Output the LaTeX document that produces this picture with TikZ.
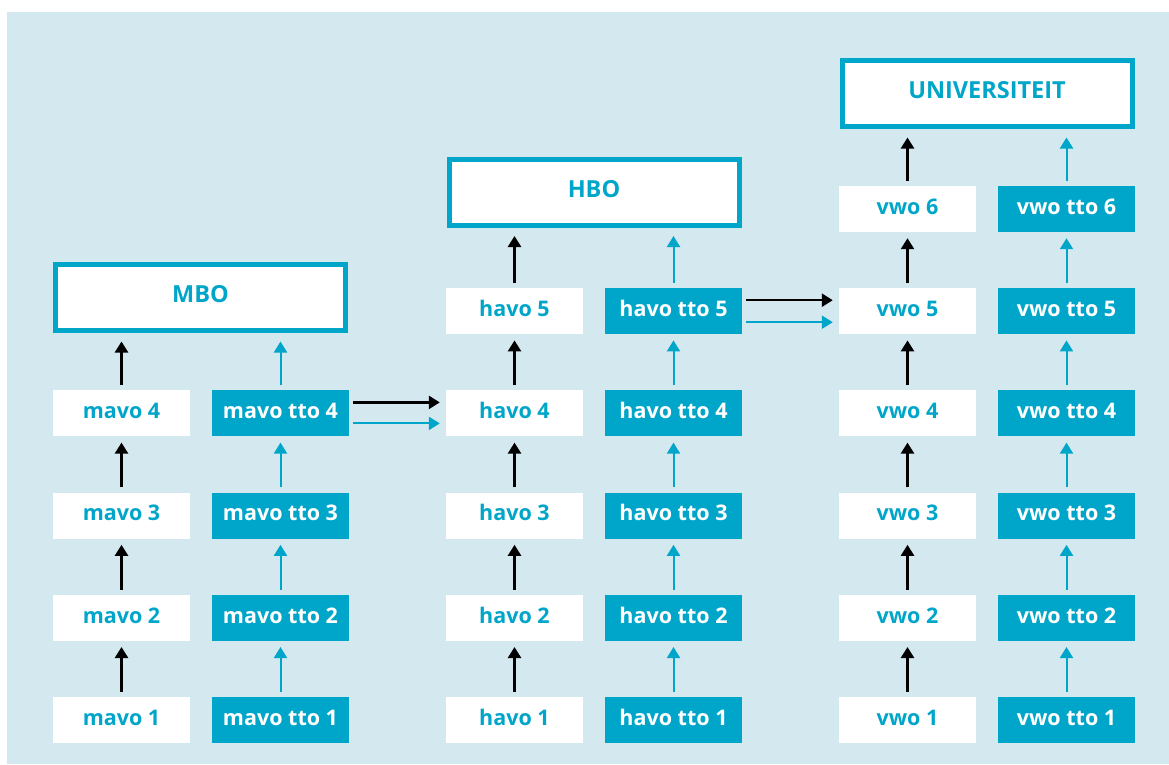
\documentclass[tikz,border=0pt]{standalone}
\usepackage{fontspec}
\setmainfont{Open Sans}
\usetikzlibrary{arrows.meta}
\definecolor{teal}{HTML}{00A6C9}
\definecolor{bgblue}{HTML}{D4E8EF}
\tikzset{
  x=1pt,y=-1pt,
  base/.style={minimum width=137pt,minimum height=46pt,inner sep=0pt,text height=15.4pt,text depth=5pt,font=\fontsize{21.5}{24}\selectfont\bfseries},
  wbox/.style={base,fill=white,text=teal},
  tbox/.style={base,fill=teal,text=white},
  bigbox/.style={draw=teal,line width=5pt,fill=white,text=teal,minimum width=290pt,minimum height=66pt,inner sep=0pt,text height=16.8pt,text depth=6pt,font=\fontsize{23.5}{26}\selectfont\bfseries},
  blackarrow/.style={line width=2.5pt,black,-{Triangle[width=13pt,length=11pt]},shorten <=5pt,shorten >=6pt},
  tealarrow/.style={line width=2pt,teal,-{Triangle[width=13pt,length=11pt]},shorten <=5pt,shorten >=6pt},
  bigblackarrow/.style={blackarrow,shorten >=8.5pt},
  bigtealarrow/.style={tealarrow,shorten >=8.5pt},
  hblack/.style={line width=2.5pt,black,-{Triangle[width=13pt,length=11pt]},shorten <=4pt,shorten >=6pt},
  hteal/.style={line width=2pt,teal,-{Triangle[width=13pt,length=11pt]},shorten <=4pt,shorten >=6pt},
}
\begin{document}
\begin{tikzpicture}
\useasboundingbox (0,0) rectangle (1169,764);
\fill[bgblue] (7,12) rectangle (1169,764);
% rows
\foreach \i in {1,...,4}{
  \node[wbox] (m\i) at (121.5,{720-102.2*(\i-1)}) {mavo \i};
  \node[tbox] (mt\i) at (280.5,{720-102.2*(\i-1)}) {mavo tto \i};
}
\foreach \i in {1,...,5}{
  \node[wbox] (h\i) at (514.5,{720-102.2*(\i-1)}) {havo \i};
  \node[tbox] (ht\i) at (673.5,{720-102.2*(\i-1)}) {havo tto \i};
}
\foreach \i in {1,...,6}{
  \node[wbox] (v\i) at (907.5,{720-102.2*(\i-1)}) {vwo \i};
  \node[tbox] (vt\i) at (1066.5,{720-102.2*(\i-1)}) {vwo tto \i};
}
\node[bigbox] (mbo) at (200.5,297.5) {MBO};
\node[bigbox] (hbo) at (594,192) {HBO};
\node[bigbox] (uni) at (987,93.5) {UNIVERSITEIT};
% vertical arrows
\foreach \a/\b in {1/2,2/3,3/4}{
  \draw[blackarrow] (m\a) -- (m\b);
  \draw[tealarrow] (mt\a) -- (mt\b);
}
\foreach \a/\b in {1/2,2/3,3/4,4/5}{
  \draw[blackarrow] (h\a) -- (h\b);
  \draw[tealarrow] (ht\a) -- (ht\b);
}
\foreach \a/\b in {1/2,2/3,3/4,4/5,5/6}{
  \draw[blackarrow] (v\a) -- (v\b);
  \draw[tealarrow] (vt\a) -- (vt\b);
}
\draw[bigblackarrow] (m4.north) -- (m4.north |- mbo.south);
\draw[bigtealarrow] (mt4.north) -- (mt4.north |- mbo.south);
\draw[bigblackarrow] (h5.north) -- (h5.north |- hbo.south);
\draw[bigtealarrow] (ht5.north) -- (ht5.north |- hbo.south);
\draw[bigblackarrow] (v6.north) -- (v6.north |- uni.south);
\draw[bigtealarrow] (vt6.north) -- (vt6.north |- uni.south);
% horizontal arrows
\draw[hblack] ([yshift=11pt]mt4.east) -- ([yshift=11pt]h4.west);
\draw[hteal] ([yshift=-10pt]mt4.east) -- ([yshift=-10pt]h4.west);
\draw[hblack] ([yshift=11pt]ht5.east) -- ([yshift=11pt]v5.west);
\draw[hteal] ([yshift=-11pt]ht5.east) -- ([yshift=-11pt]v5.west);
\end{tikzpicture}
\end{document}
